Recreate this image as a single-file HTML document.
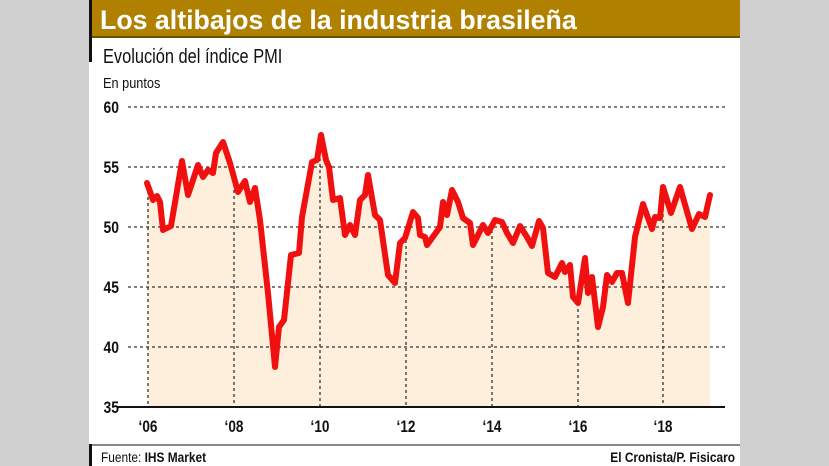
<!DOCTYPE html><html><head><meta charset="utf-8"><style>
body{margin:0;width:829px;height:466px;background:#d0d0d0;overflow:hidden;font-family:"Liberation Sans",sans-serif}
</style></head><body>
<svg width="829" height="466" style="position:absolute;left:0;top:0">
<rect x="89" y="0" width="651" height="466" fill="#fff"/>
<rect x="89" y="0" width="651" height="37" fill="#b08000"/>
<rect x="89" y="36" width="651" height="2" fill="#6b5000"/>
<rect x="89" y="0" width="3" height="62" fill="#111"/>
<text x="100" y="29" font-size="27" font-weight="bold" fill="#fff" transform="translate(100 0) scale(0.99 1) translate(-100 0)">Los altibajos de la industria brasileña</text>
<text x="103" y="63" font-size="20" fill="#111" transform="translate(103 0) scale(0.82 1) translate(-103 0)">Evolución del índice PMI</text>
<text x="103" y="88" font-size="15" fill="#111" transform="translate(103 0) scale(0.85 1) translate(-103 0)">En puntos</text>
<polygon fill="#fdefdb" points="148,407 147,183 153,200 157,196 160,202 163,230 171,226 182,161 188,195 198,165 203,177 208,170 213,173 216,153 223,142 230,163 238,192 245,181 250,202 255,188 260,220 268,293 275,367 279,327 284,320 291,255 299,253 302,217 312,162 317,160 321,135 326,160 329,167 333,200 340,198 345,235 350,225 355,235 360,200 365,195 368,175 375,215 380,220 388,275 395,283 400,243 405,238 413,212 418,218 420,235 425,237 427,245 440,227 443,202 447,215 452,190 458,202 463,218 470,223 473,245 483,225 488,233 495,220 502,222 507,233 513,243 520,226 527,237 532,246 539,221 543,228 548,273 555,277 562,263 565,272 570,265 573,297 578,303 585,258 588,293 592,277 598,327 603,307 607,275 612,282 617,273 622,273 628,303 635,237 643,204 652,229 655,217 660,218 663,187 671,213 680,187 692,229 699,214 705,217 710,195 710,407"/>
<g stroke="#333" stroke-width="1.3" stroke-dasharray="3 3">
<line x1="128" y1="107" x2="725" y2="107"/><line x1="128" y1="167" x2="725" y2="167"/><line x1="128" y1="227" x2="725" y2="227"/><line x1="128" y1="287" x2="725" y2="287"/><line x1="128" y1="347" x2="725" y2="347"/>
<line x1="148" y1="185" x2="148" y2="407"/><line x1="234" y1="178" x2="234" y2="407"/><line x1="320" y1="140" x2="320" y2="407"/><line x1="406" y1="240" x2="406" y2="407"/><line x1="492" y1="224" x2="492" y2="407"/><line x1="578" y1="303" x2="578" y2="407"/><line x1="663" y1="190" x2="663" y2="407"/>
</g>
<line x1="117" y1="407" x2="725" y2="407" stroke="#111" stroke-width="2"/>
<polyline fill="none" stroke="#f01010" stroke-width="6" stroke-linejoin="round" stroke-linecap="round" points="147,183 153,200 157,196 160,202 163,230 171,226 182,161 188,195 198,165 203,177 208,170 213,173 216,153 223,142 230,163 238,192 245,181 250,202 255,188 260,220 268,293 275,367 279,327 284,320 291,255 299,253 302,217 312,162 317,160 321,135 326,160 329,167 333,200 340,198 345,235 350,225 355,235 360,200 365,195 368,175 375,215 380,220 388,275 395,283 400,243 405,238 413,212 418,218 420,235 425,237 427,245 440,227 443,202 447,215 452,190 458,202 463,218 470,223 473,245 483,225 488,233 495,220 502,222 507,233 513,243 520,226 527,237 532,246 539,221 543,228 548,273 555,277 562,263 565,272 570,265 573,297 578,303 585,258 588,293 592,277 598,327 603,307 607,275 612,282 617,273 622,273 628,303 635,237 643,204 652,229 655,217 660,218 663,187 671,213 680,187 692,229 699,214 705,217 710,195"/>
<g font-size="17" font-weight="bold" fill="#111" text-anchor="end" transform="translate(119 0) scale(0.82 1) translate(-119 0)">
<text x="119" y="113">60</text><text x="119" y="173">55</text><text x="119" y="233">50</text><text x="119" y="293">45</text><text x="119" y="353">40</text><text x="119" y="413">35</text>
</g>
<g font-size="17" font-weight="bold" fill="#111" text-anchor="middle">
<text x="148" y="432" transform="translate(148 0) scale(0.8 1) translate(-148 0)">‘06</text><text x="234" y="432" transform="translate(234 0) scale(0.8 1) translate(-234 0)">‘08</text><text x="320" y="432" transform="translate(320 0) scale(0.8 1) translate(-320 0)">‘10</text><text x="406" y="432" transform="translate(406 0) scale(0.8 1) translate(-406 0)">‘12</text><text x="492" y="432" transform="translate(492 0) scale(0.8 1) translate(-492 0)">‘14</text><text x="578" y="432" transform="translate(578 0) scale(0.8 1) translate(-578 0)">‘16</text><text x="663" y="432" transform="translate(663 0) scale(0.8 1) translate(-663 0)">‘18</text>
</g>
<rect x="89" y="444" width="651" height="2" fill="#888"/>
<rect x="89" y="444" width="3" height="22" fill="#111"/>
<text x="101" y="462" font-size="14" fill="#111" transform="translate(101 0) scale(0.85 1) translate(-101 0)">Fuente: <tspan font-weight="bold">IHS Market</tspan></text>
<text x="735" y="462" font-size="14" font-weight="bold" fill="#111" text-anchor="end" transform="translate(735 0) scale(0.85 1) translate(-735 0)">El Cronista/P. Fisicaro</text>
</svg>
</body></html>
